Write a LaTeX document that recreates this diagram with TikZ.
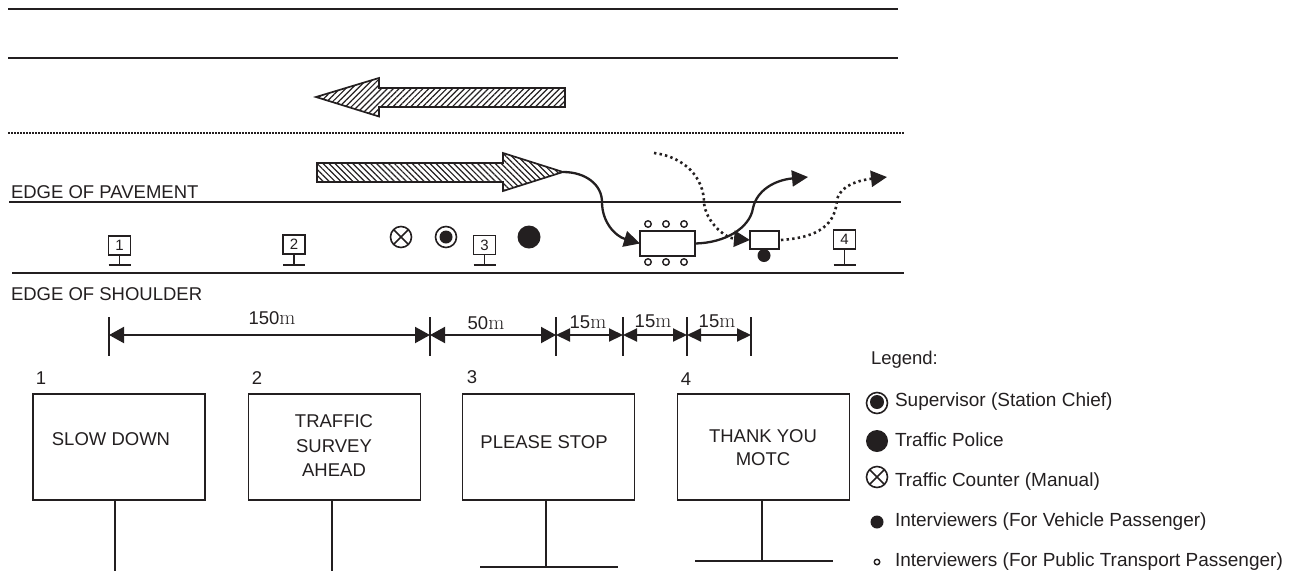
\documentclass[tikz,border=0pt]{standalone}
\usepackage[no-math]{fontspec}
\setmainfont{Liberation Sans}
\usetikzlibrary{arrows.meta,patterns.meta}
\definecolor{ink}{HTML}{231F20}
\DeclareMathSizes{18.5}{21}{15}{10}
\tikzset{
  every node/.style={font=\fontsize{18.5}{20}\selectfont,text=ink,inner sep=0pt,outer sep=0pt},
  road/.style={draw=ink,line width=1.8pt},
  roaddot/.style={draw=ink,line width=1.7pt,dash pattern=on 1.5pt off 1.5pt},
  hatchleft/.style={draw=ink,line width=1.7pt,miter limit=10,pattern={Lines[angle=45,distance=4.2pt,line width=1.2pt]},pattern color=ink},
  hatchright/.style={draw=ink,line width=1.7pt,miter limit=10,pattern={Lines[angle=-45,distance=4.2pt,line width=1.2pt]},pattern color=ink},
  flow/.style={draw=ink,line width=2.3pt,-{Triangle[length=16pt,width=16pt]}},
  flowdot/.style={draw=ink,line width=2.6pt,dash pattern=on 2.4pt off 3.2pt,-{Triangle[length=16pt,width=16pt]}},
  tick/.style={draw=ink,line width=1.5pt},
  dimline/.style={draw=ink,line width=2pt,{Triangle[length=15pt,width=16pt]}-{Triangle[length=15pt,width=16pt]}},
  dimsmall/.style={draw=ink,line width=2pt,{Triangle[length=14pt,width=13pt]}-{Triangle[length=14pt,width=13pt]}},
  minisign/.style={draw=ink,line width=1.7pt,minimum width=22pt,minimum height=19pt,font=\fontsize{15}{15}\selectfont},
  bigsign/.style={draw=ink,line width=1.8pt,minimum width=172pt,minimum height=106pt},
  post/.style={draw=ink,line width=1.6pt},
  person/.style={circle,fill=ink,draw=none},
  seat/.style={circle,draw=ink,line width=1.4pt,fill=white,minimum size=6.5pt},
  ringed/.style={circle,draw=ink,line width=1.6pt,fill=white,minimum size=21pt},
  crossed/.style={circle,draw=ink,line width=1.6pt,minimum size=21pt},
  desk/.style={draw=ink,line width=1.8pt,fill=white},
  lab/.style={anchor=base west},
  leg/.style={anchor=base west,font=\fontsize{19}{20}\selectfont},
}
\newcommand{\minipost}[5]{% name, x, y(center), text, base half width
  \node[minisign] (#1) at (#2,#3) {\raisebox{-4pt}{#4}};
  \coordinate (#1foot) at (#2,265);
  \draw[post] (#1.south) -- (#1foot);
  \draw[post] ([xshift=-#5pt]#1foot) -- ([xshift=#5pt]#1foot);
}
\newcommand{\crossmark}[1]{%
  \draw[draw=ink,line width=1.6pt] (#1.north west) -- (#1.south east) (#1.north east) -- (#1.south west);
}
\begin{document}
\begin{tikzpicture}[x=1pt,y=-1pt]
\useasboundingbox (0,0) rectangle (1292,571);
% road lines
\coordinate (r1a) at (8,9); \coordinate (r1b) at (898,9);
\coordinate (r2a) at (8,58); \coordinate (r2b) at (898,58);
\coordinate (r3a) at (8,133); \coordinate (r3b) at (904,133);
\coordinate (r4a) at (9,202); \coordinate (r4b) at (901,202);
\coordinate (r5a) at (12,273); \coordinate (r5b) at (904,273);
\draw[road] (r1a) -- (r1b);
\draw[road] (r2a) -- (r2b);
\draw[roaddot] (r3a) -- (r3b);
\draw[road] (r4a) -- (r4b);
\draw[road] (r5a) -- (r5b);
\node[lab] (pave) at (11,198) {EDGE OF PAVEMENT};
\node[lab] (shou) at (11,300) {EDGE OF SHOULDER};
% traffic arrows
\draw[hatchleft] (316,97) -- (379,78) -- (379,88) -- (565,88) -- (565,107) -- (379,107) -- (379,116.5) -- cycle;
\draw[hatchright] (317,163) -- (503,163) -- (503,153) -- (563,172) -- (503,191) -- (503,182) -- (317,182) -- cycle;
\coordinate (ctip) at (563,172);
% station furniture
\minipost{sa}{119.5}{245.5}{1}{11}
\minipost{sb}{294}{244.5}{2}{11}
\minipost{sc}{484.5}{245}{3}{11}
\minipost{sd}{844.5}{239.5}{4}{11}
\node[crossed] (cnt) at (401,237) {}; \crossmark{cnt}
\node[ringed] (sup) at (446,237) {}; \node[person,minimum size=13pt] (supc) at (446,237) {};
\node[person,minimum size=23pt] (pol) at (529,237) {};
\node[desk,minimum width=55pt,minimum height=25pt] (table) at (667.5,243.5) {};
\foreach \n/\x/\y in {a/648/224,b/666/224,c/684/224,d/648/262,e/666/262,f/684/262}
  \node[seat] (seat\n) at (\x,\y) {};
\node[desk,minimum width=29pt,minimum height=18pt] (booth) at (764.5,240) {};
\node[person,minimum size=13pt] (iv) at (764,255.5) {};
% flows
\coordinate (e1) at (808,177);
\coordinate (s2) at (654,153);
\coordinate (e2) at (887,177);
\draw[flow] (ctip) .. controls (586,172) and (602,185) .. (602,202) .. controls (602,222) and (615,236) .. (table.west);
\draw[flow] (table.east) .. controls (725,243) and (750,228) .. (753,208) .. controls (757,190) and (775,180) .. (e1);
\draw[flowdot] (s2) .. controls (685,157) and (704,178) .. (704,203) .. controls (706,222) and (725,238) .. (booth.west);
\draw[flowdot] ([xshift=2pt]booth.east) .. controls (810,238) and (835,230) .. (837,200) .. controls (840,185) and (860,180) .. (e2);
% dimensions
\foreach \n/\x in {a/109,b/430,c/556,d/623,e/687,f/751}{
  \coordinate (dt\n) at (\x,317); \coordinate (db\n) at (\x,356);
  \coordinate (dm\n) at (\x,335);
  \draw[tick] (dt\n) -- (db\n);
}
\draw[dimline] (dma) -- (dmb);
\draw[dimline] (dmb) -- (dmc);
\draw[dimsmall] (dmc) -- (dmd);
\draw[dimsmall] (dmd) -- (dme);
\draw[dimsmall] (dme) -- (dmf);
\node (l150) at (272,318) {150$\mathrm{m}$};
\node (l50) at (486,323) {50$\mathrm{m}$};
\node (l15a) at (588,322) {15$\mathrm{m}$};
\node (l15b) at (653,321) {15$\mathrm{m}$};
\node (l15c) at (717,321) {15$\mathrm{m}$};
% large signs
\node[bigsign] (b1) at (119,447) {};
\node[bigsign] (b2) at (334.5,447) {};
\node[bigsign] (b3) at (548.5,447) {};
\node[bigsign] (b4) at (763.5,447) {};
\node (n1) at (41,378) {1};
\node (n2) at (257,378) {2};
\node (n3) at (472,377) {3};
\node (n4) at (686,379) {4};
\node (t1) at (111,439) {SLOW DOWN};
\node (t2a) at (334,421) {TRAFFIC};
\node (t2b) at (334,446) {SURVEY};
\node (t2c) at (334,470) {AHEAD};
\node (t3) at (544,442) {PLEASE STOP};
\node (t4a) at (763,436) {THANK YOU};
\node (t4b) at (763,459) {MOTC};
\coordinate (f1) at (115,571); \coordinate (f2) at (332,571);
\coordinate (f3) at (546,567); \coordinate (f4) at (762,561);
\coordinate (f3l) at (480,567); \coordinate (f3r) at (618,567);
\coordinate (f4l) at (695,561); \coordinate (f4r) at (833,561);
\coordinate (s1) at (115,500); \coordinate (s2t) at (332,500);
\coordinate (s3) at (546,500); \coordinate (s4) at (762,500);
\draw[post] (s1) -- (f1);
\draw[post] (s2t) -- (f2);
\draw[post] (s3) -- (f3);
\draw[post] (s4) -- (f4);
\draw[post] (f3l) -- (f3r);
\draw[post] (f4l) -- (f4r);
% legend
\node[lab] (lg) at (871,364) {Legend:};
\node[ringed] (lsup) at (877,403) {}; \node[person,minimum width=14pt,minimum height=12pt] (lsupc) at (877,402) {};
\node[person,minimum size=22pt] (lpol) at (877,441) {};
\node[crossed] (lcnt) at (877,477) {}; \crossmark{lcnt}
\node[person,minimum size=13pt] (liv) at (877,522) {};
\node[seat,minimum size=5.5pt] (lip) at (877,562) {};
\node[leg] (ta) at (895,406) {Supervisor (Station Chief)};
\node[leg] (tb) at (895,446) {Traffic Police};
\node[leg] (tc) at (895,486) {Traffic Counter (Manual)};
\node[leg] (td) at (895,526) {Interviewers (For Vehicle Passenger)};
\node[leg] (te) at (895,566) {Interviewers (For Public Transport Passenger)};
\end{tikzpicture}
\end{document}
